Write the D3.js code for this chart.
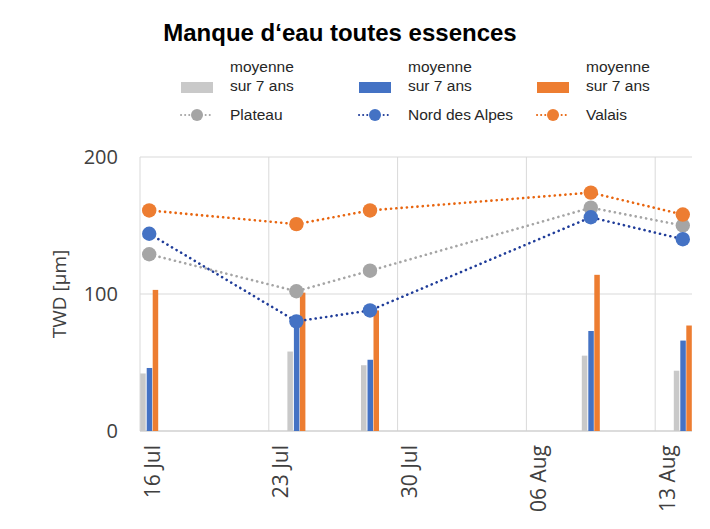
<!DOCTYPE html>
<html>
<head>
<meta charset="utf-8">
<script src="https://cdn.jsdelivr.net/npm/d3@7"></script>
<style>
  body { margin: 0; background: #fff; }
  svg { display: block; }
</style>
</head>
<body>
<div id="chart"></div>
<script>
// dates of the measurements
const dates = ["2023-07-16", "2023-07-24", "2023-07-28", "2023-08-09", "2023-08-14"];
// bars: 7-year averages
const barPlateau = [42, 58, 48, 55, 44];
const barNord = [46, 78, 52, 73, 66];
const barValais = [103, 101, 88, 114, 77];
// lines: current values
const linePlateau = [129, 102, 117, 163, 150];
const lineNord = [144, 80, 88, 156, 140];
const lineValais = [161, 151, 161, 174, 158];
const yTicks = [0, 100, 200];
const xTicks = ["2023-07-16", "2023-07-23", "2023-07-30", "2023-08-06", "2023-08-13"];

const W = 710, H = 529;
const margin = {top: 157, right: 18, bottom: 98, left: 140};
const width = W - margin.left - margin.right;
const height = H - margin.top - margin.bottom;

const parse = d3.timeParse("%Y-%m-%d");
const fmt = d3.timeFormat("%d %b");

const svg = d3.select("#chart").append("svg")
    .attr("width", W)
    .attr("height", H);

const g = svg.append("g")
    .attr("transform", "translate(" + margin.left + "," + margin.top + ")");

const x = d3.scaleTime()
    .domain([parse("2023-07-16"), parse("2023-08-15")])
    .range([0, width]);
const y = d3.scaleLinear().domain([0, 200]).range([height, 0]);

const dayW = x(parse("2023-07-17")) - x(parse("2023-07-16"));
const center = d => x(parse(d)) + dayW / 2;

// gridlines
g.selectAll(".hgrid").data(yTicks.filter(t => t > 0)).enter().append("line")
    .attr("x1", 0).attr("x2", width)
    .attr("y1", d => y(d)).attr("y2", d => y(d))
    .attr("stroke", "#d9d9d9").attr("stroke-width", 1);
g.selectAll(".vgrid").data(xTicks).enter().append("line")
    .attr("x1", d => x(parse(d))).attr("x2", d => x(parse(d)))
    .attr("y1", 0).attr("y2", height)
    .attr("stroke", "#d9d9d9").attr("stroke-width", 1);
// axis line
g.append("line").attr("x1", 0).attr("x2", width).attr("y1", height).attr("y2", height)
    .attr("stroke", "#d0d0d0").attr("stroke-width", 1.5);

// bars
const barSeries = [
    {vals: barPlateau, color: "#c9c9c9", off: -9},
    {vals: barNord, color: "#4472c4", off: -2.5},
    {vals: barValais, color: "#ed7d31", off: 3.5}
];
const bw = 5.5;
barSeries.forEach(s => {
    g.selectAll(null).data(dates).enter().append("rect")
        .attr("x", (d, i) => center(d) + s.off)
        .attr("width", bw)
        .attr("y", (d, i) => y(s.vals[i]))
        .attr("height", (d, i) => height - y(s.vals[i]))
        .attr("fill", s.color);
});

// lines
const lineSeries = [
    {vals: linePlateau, line: "#a5a5a5", fill: "#a5a5a5"},
    {vals: lineNord, line: "#1f3c99", fill: "#4472c4"},
    {vals: lineValais, line: "#e8650f", fill: "#ed7d31"}
];
const line = d3.line().x(d => center(d[0])).y(d => y(d[1]));
lineSeries.forEach(s => {
    g.append("path")
        .datum(dates.map((d, i) => [d, s.vals[i]]))
        .attr("d", line)
        .attr("fill", "none")
        .attr("stroke", s.line)
        .attr("stroke-width", 2.6)
        .attr("stroke-linecap", "round")
        .attr("stroke-dasharray", "0.1 5.2");
});
lineSeries.forEach(s => {
    g.selectAll(null).data(dates).enter().append("circle")
        .attr("cx", d => center(d))
        .attr("cy", (d, i) => y(s.vals[i]))
        .attr("r", 7.2)
        .attr("fill", s.fill);
});

// y axis labels
g.selectAll(".ylab").data(yTicks).enter().append("text")
    .attr("x", -22).attr("y", d => y(d))
    .attr("dy", "0.36em")
    .attr("text-anchor", "end")
    .style("font-family", "'Open Sans', sans-serif")
    .style("font-size", "20px")
    .attr("fill", "#404040")
    .text(d => d);

svg.append("text")
    .attr("transform", "translate(66," + (margin.top + height / 2) + ") rotate(-90)")
    .attr("text-anchor", "middle")
    .style("font-family", "'Open Sans', sans-serif")
    .style("font-size", "19px")
    .attr("fill", "#404040")
    .text("TWD [µm]");

// x axis labels
g.selectAll(".xlab").data(xTicks).enter().append("text")
    .attr("transform", d => "translate(" + (x(parse(d)) + 12) + "," + (height + 14) + ") rotate(-90)")
    .attr("text-anchor", "end")
    .attr("dy", "0.36em")
    .style("font-family", "'Open Sans', sans-serif")
    .style("font-size", "21px")
    .attr("fill", "#404040")
    .text(d => fmt(parse(d)));

// title
svg.append("text")
    .attr("x", 340).attr("y", 41)
    .attr("text-anchor", "middle")
    .style("font-family", "'Liberation Sans', Arial, sans-serif")
    .style("font-size", "24px")
    .style("font-weight", "bold")
    .attr("fill", "#000")
    .text("Manque d‘eau toutes essences");

// legend
const legBars = [
    {x: 181, color: "#c9c9c9"},
    {x: 359, color: "#4472c4"},
    {x: 537, color: "#ed7d31"}
];
const legLines = [
    {x: 181, name: "Plateau", line: "#a5a5a5", fill: "#a5a5a5"},
    {x: 359, name: "Nord des Alpes", line: "#1f3c99", fill: "#4472c4"},
    {x: 537, name: "Valais", line: "#e8650f", fill: "#ed7d31"}
];
const legFont = "'Liberation Sans', Arial, sans-serif";
legBars.forEach(l => {
    svg.append("rect")
        .attr("x", l.x).attr("y", 82)
        .attr("width", 32).attr("height", 11)
        .attr("fill", l.color);
    svg.append("text")
        .attr("x", l.x + 49).attr("y", 72)
        .style("font-family", legFont).style("font-size", "15.5px")
        .attr("fill", "#262626").text("moyenne");
    svg.append("text")
        .attr("x", l.x + 49).attr("y", 91)
        .style("font-family", legFont).style("font-size", "15.5px")
        .attr("fill", "#262626").text("sur 7 ans");
});
legLines.forEach(l => {
    svg.append("line")
        .attr("x1", l.x).attr("x2", l.x + 32)
        .attr("y1", 115).attr("y2", 115)
        .attr("stroke", l.line).attr("stroke-width", 2)
        .attr("stroke-linecap", "round")
        .attr("stroke-dasharray", "0.1 4");
    svg.append("circle")
        .attr("cx", l.x + 16).attr("cy", 115).attr("r", 6)
        .attr("fill", l.fill);
    svg.append("text")
        .attr("x", l.x + 49).attr("y", 120)
        .style("font-family", legFont).style("font-size", "15.5px")
        .attr("fill", "#262626").text(l.name);
});
</script>
</body>
</html>
